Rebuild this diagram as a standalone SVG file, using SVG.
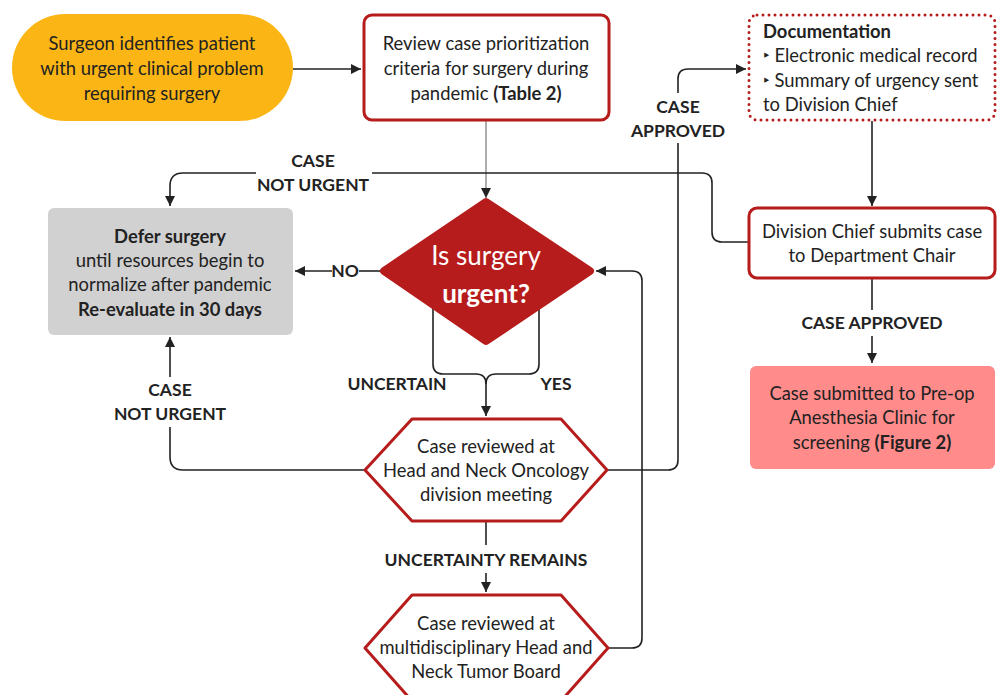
<svg xmlns="http://www.w3.org/2000/svg" width="1000" height="695" viewBox="0 0 1000 695">
<defs>
<marker id="arr" viewBox="0 0 10 10" refX="10" refY="5" markerWidth="10" markerHeight="10" markerUnits="userSpaceOnUse" orient="auto">
<path d="M0,0 L10,5 L0,10 Z" fill="#222"/>
</marker>
<style>
text{font-family:Lato,"Noto Sans",sans-serif;fill:#222;}
.t{font-size:18.4px;text-anchor:middle;}
.d{font-size:18.4px;}
.l{font-size:17.5px;font-weight:bold;text-anchor:middle;}
.b{font-weight:bold;}
.c{fill:none;stroke:#222;stroke-width:1.6;}
.red{fill:#fff;stroke:#B71C1C;stroke-width:3;stroke-linejoin:round;}
</style>
</defs>
<rect width="1000" height="695" fill="#fff"/>

<g id="connectors">
<path class="c" d="M293,69 H361" marker-end="url(#arr)"/>
<path d="M486,121 V198" fill="none" stroke="#777" stroke-width="1.2" marker-end="url(#arr)"/>
<path class="c" d="M748,242 H722 Q712,242 712,232 V183 Q712,173 702,173 H372"/>
<path class="c" d="M256,173 H183 Q170,173 170,186 V206" marker-end="url(#arr)"/>
<path class="c" d="M380,271 H359"/>
<path class="c" d="M332,271 H295" marker-end="url(#arr)"/>
<path class="c" d="M433,308 V364 Q433,374 443,374 H476 Q486,374 486,384 V416" marker-end="url(#arr)"/>
<path class="c" d="M539,308 V364 Q539,374 529,374 H496 Q486,374 486,384"/>
<path class="c" d="M365,470 H183 Q170,470 170,457 V427"/>
<path class="c" d="M170,377 V337" marker-end="url(#arr)"/>
<path class="c" d="M607,470 H668 Q678,470 678,460 V143"/>
<path class="c" d="M678,93 V79 Q678,69 688,69 H746" marker-end="url(#arr)"/>
<path class="c" d="M486,522 V545"/>
<path class="c" d="M486,573 V592" marker-end="url(#arr)"/>
<path class="c" d="M608,648 H632 Q642,648 642,638 V281 Q642,271 632,271 H596" marker-end="url(#arr)"/>
<path class="c" d="M872,121 V206" marker-end="url(#arr)"/>
<path class="c" d="M872,278 V310"/>
<path class="c" d="M872,336 V363" marker-end="url(#arr)"/>
<text class="l" x="313" y="167">CASE</text>
<text class="l" x="313" y="191">NOT URGENT</text>
<text class="l" x="345" y="277">NO</text>
<text class="l" x="397" y="390">UNCERTAIN</text>
<text class="l" x="556" y="390">YES</text>
<text class="l" x="170" y="396">CASE</text>
<text class="l" x="170" y="420">NOT URGENT</text>
<text class="l" x="678" y="113">CASE</text>
<text class="l" x="678" y="137">APPROVED</text>
<text class="l" x="486" y="566">UNCERTAINTY REMAINS</text>
<text class="l" x="872" y="329">CASE APPROVED</text>
</g>

<g id="start">
<rect x="12" y="14" width="281" height="107" rx="53.5" fill="#FBB615"/>
<text class="t" x="152" y="50">Surgeon identifies patient</text>
<text class="t" x="152" y="75">with urgent clinical problem</text>
<text class="t" x="152" y="100">requiring surgery</text>
</g>

<g id="review">
<rect class="red" x="364" y="15" width="245" height="105" rx="8"/>
<text class="t" x="486" y="50">Review case prioritization</text>
<text class="t" x="486" y="75">criteria for surgery during</text>
<text class="t" x="486" y="100">pandemic <tspan class="b">(Table 2)</tspan></text>
</g>

<g id="documentation">
<rect x="749" y="15" width="246" height="105" rx="8" fill="#fff" stroke="#B71C1C" stroke-width="3" stroke-linecap="round" stroke-dasharray="0 6"/>
<text x="763" y="38" class="d b">Documentation</text>
<text x="763" y="62" class="d">‣ Electronic medical record</text>
<text x="763" y="87" class="d">‣ Summary of urgency sent</text>
<text x="763" y="111" class="d">to Division Chief</text>
</g>

<g id="decision">
<path d="M486,202 L590,271 L486,341 L384,271 Z" fill="#B71C1C" stroke="#B71C1C" stroke-width="8" stroke-linejoin="round"/>
<text x="486" y="265" font-size="26" text-anchor="middle" style="fill:#fff">Is surgery</text>
<text x="486" y="303" font-size="26" text-anchor="middle" class="b" style="fill:#fff">urgent?</text>
</g>

<g id="defer">
<rect x="48" y="208" width="245" height="127" rx="6" fill="#D1D1D1"/>
<text class="t b" x="170" y="243">Defer surgery</text>
<text class="t" x="170" y="267">until resources begin to</text>
<text class="t" x="170" y="291">normalize after pandemic</text>
<text class="t b" x="170" y="316">Re-evaluate in 30 days</text>
</g>

<g id="chief">
<rect class="red" x="749" y="208" width="246" height="70" rx="8"/>
<text class="t" x="872" y="238">Division Chief submits case</text>
<text class="t" x="872" y="262">to Department Chair</text>
</g>

<g id="preop">
<rect x="750" y="366" width="245" height="103" rx="6" fill="#FF8B8B"/>
<text class="t" x="872" y="400">Case submitted to Pre-op</text>
<text class="t" x="872" y="424">Anesthesia Clinic for</text>
<text class="t" x="872" y="449">screening <tspan class="b">(Figure 2)</tspan></text>
</g>

<g id="division-meeting">
<path class="red" d="M365,470 L412,419 L561,419 L607,470 L561,521 L412,521 Z"/>
<text class="t" x="486" y="453">Case reviewed at</text>
<text class="t" x="486" y="477">Head and Neck Oncology</text>
<text class="t" x="486" y="501">division meeting</text>
</g>

<g id="tumor-board">
<path class="red" d="M365,648 L412,595 L561,595 L608,648 L561,701 L412,701 Z"/>
<text class="t" x="486" y="630">Case reviewed at</text>
<text class="t" x="486" y="654">multidisciplinary Head and</text>
<text class="t" x="486" y="678">Neck Tumor Board</text>
</g>
</svg>
